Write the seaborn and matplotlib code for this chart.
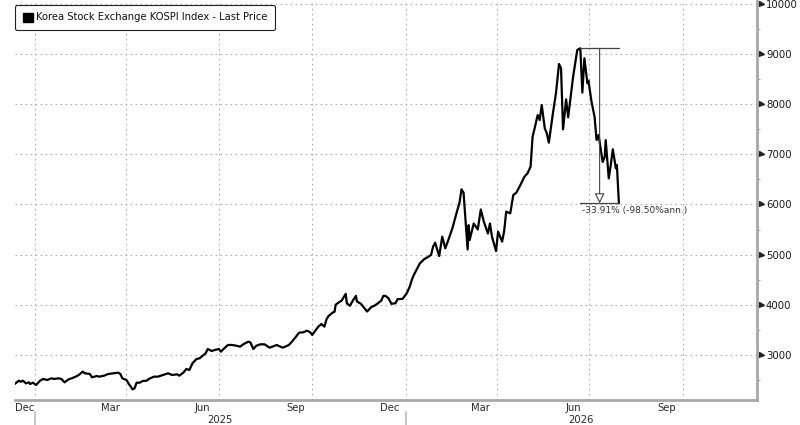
import pandas as pd
import matplotlib
matplotlib.use("Agg")
import matplotlib.pyplot as plt
import matplotlib.dates as mdates
import matplotlib.transforms as mtransforms
from matplotlib.patches import Patch
import seaborn as sns

# KOSPI last price
dates = [
    "2024-12-12", "2024-12-16", "2024-12-18", "2024-12-20", "2024-12-23", "2024-12-26",
    "2024-12-27", "2024-12-30", "2025-01-02", "2025-01-06", "2025-01-09", "2025-01-13",
    "2025-01-17", "2025-01-20", "2025-01-24", "2025-01-27", "2025-01-30", "2025-02-03",
    "2025-02-06", "2025-02-10", "2025-02-13", "2025-02-17", "2025-02-19", "2025-02-24",
    "2025-02-26", "2025-03-03", "2025-03-05", "2025-03-10", "2025-03-14", "2025-03-19",
    "2025-03-24", "2025-03-26", "2025-03-28", "2025-04-01", "2025-04-03", "2025-04-07",
    "2025-04-09", "2025-04-11", "2025-04-14", "2025-04-17", "2025-04-21", "2025-04-23",
    "2025-04-28", "2025-05-02", "2025-05-07", "2025-05-12", "2025-05-16", "2025-05-21",
    "2025-05-23", "2025-05-27", "2025-05-30", "2025-06-02", "2025-06-05", "2025-06-09",
    "2025-06-12", "2025-06-16", "2025-06-18", "2025-06-20", "2025-06-24", "2025-06-27",
    "2025-07-01", "2025-07-03", "2025-07-07", "2025-07-10", "2025-07-14", "2025-07-18",
    "2025-07-22", "2025-07-25", "2025-07-30", "2025-08-01", "2025-08-04", "2025-08-07",
    "2025-08-11", "2025-08-15", "2025-08-20", "2025-08-25", "2025-08-27", "2025-08-29",
    "2025-09-02", "2025-09-08", "2025-09-11", "2025-09-15", "2025-09-18", "2025-09-22",
    "2025-09-26", "2025-09-29", "2025-10-01", "2025-10-02", "2025-10-07", "2025-10-10",
    "2025-10-13", "2025-10-15", "2025-10-17", "2025-10-21", "2025-10-23", "2025-10-24",
    "2025-10-27", "2025-10-30", "2025-11-03", "2025-11-04", "2025-11-07", "2025-11-10",
    "2025-11-13", "2025-11-14", "2025-11-18", "2025-11-20", "2025-11-24", "2025-11-25",
    "2025-11-28", "2025-12-01", "2025-12-04", "2025-12-08", "2025-12-10", "2025-12-12",
    "2025-12-15", "2025-12-18", "2025-12-22", "2025-12-24", "2025-12-29", "2026-01-02",
    "2026-01-05", "2026-01-07", "2026-01-09", "2026-01-15", "2026-01-19", "2026-01-26",
    "2026-01-28", "2026-01-30", "2026-02-03", "2026-02-06", "2026-02-09", "2026-02-12",
    "2026-02-16", "2026-02-20", "2026-02-23", "2026-02-25", "2026-02-27", "2026-03-03",
    "2026-03-04", "2026-03-05", "2026-03-09", "2026-03-13", "2026-03-16", "2026-03-19",
    "2026-03-23", "2026-03-25", "2026-03-27", "2026-03-31", "2026-04-02", "2026-04-06",
    "2026-04-08", "2026-04-10", "2026-04-14", "2026-04-17", "2026-04-20", "2026-04-24",
    "2026-04-28", "2026-05-01", "2026-05-04", "2026-05-06", "2026-05-08", "2026-05-11",
    "2026-05-13", "2026-05-15", "2026-05-18", "2026-05-20", "2026-05-22", "2026-05-26",
    "2026-05-29", "2026-06-01", "2026-06-03", "2026-06-05", "2026-06-08", "2026-06-10",
    "2026-06-15", "2026-06-17", "2026-06-19", "2026-06-22", "2026-06-24", "2026-06-26",
    "2026-06-29", "2026-06-30", "2026-07-03", "2026-07-06", "2026-07-08", "2026-07-10",
    "2026-07-14", "2026-07-16", "2026-07-17", "2026-07-20", "2026-07-22", "2026-07-24",
    "2026-07-27", "2026-07-28", "2026-07-30",
]
prices = [
    2422, 2488, 2468, 2488, 2435, 2455,
    2422, 2448, 2402, 2488, 2522, 2502,
    2535, 2522, 2535, 2522, 2455, 2515,
    2535, 2568, 2601, 2668, 2635, 2621,
    2555, 2582, 2568, 2588, 2621, 2635,
    2648, 2621, 2535, 2502, 2435, 2316,
    2335, 2448, 2448, 2482, 2488, 2522,
    2568, 2568, 2601, 2635, 2601, 2615,
    2588, 2648, 2721, 2701, 2834, 2920,
    2934, 3000, 3033, 3120, 3080, 3100,
    3120, 3066, 3146, 3200, 3200, 3186,
    3166, 3213, 3266, 3253, 3120, 3186,
    3213, 3213, 3146, 3186, 3200, 3180,
    3146, 3200, 3266, 3365, 3445, 3452,
    3485, 3452, 3399, 3432, 3565, 3618,
    3565, 3711, 3777, 3844, 3864, 4000,
    4046, 4086, 4219, 4033, 3980, 4086,
    4179, 4066, 4020, 3967, 3867, 3887,
    3953, 3980, 4020, 4086, 4179, 4179,
    4133, 4020, 4033, 4113, 4119, 4229,
    4362, 4495, 4595, 4827, 4907, 4993,
    5159, 5239, 4973, 5358, 5126, 5292,
    5525, 5824, 6036, 6302, 6235, 5103,
    5588, 5292, 5621, 5502, 5900, 5654,
    5422, 5621, 5358, 5073, 5458, 5259,
    5472, 5857, 5824, 6190, 6236, 6389,
    6555, 6621, 6754, 7352, 7518, 7784,
    7684, 7983, 7518, 7418, 7232, 7817,
    8216, 8801, 8715, 7498, 8096, 7737,
    8561, 8814, 9080, 9113, 8230, 8914,
    8415, 8468, 8050, 7750, 7285, 7385,
    6847, 6947, 7285, 6521, 6787, 7100,
    6721, 6787, 6023,
]
y_ticks = [3000, 4000, 5000, 6000, 7000, 8000, 9000, 10000]
month_labels = ["Dec", "Mar", "Jun", "Sep", "Dec", "Mar", "Jun", "Sep"]
label_dates = ["2024-12-22", "2025-03-16", "2025-06-15", "2025-09-15",
               "2025-12-16", "2026-03-16", "2026-06-15", "2026-09-15"]
years = ["2025", "2026"]
legend_label = "Korea Stock Exchange KOSPI Index - Last Price"
drop_text = "-33.91% (-98.50%ann.)"

df = pd.DataFrame({"date": pd.to_datetime(dates), "price": prices})

sns.set_style("white")
plt.rcParams["font.family"] = ["DejaVu Sans"]

fig = plt.figure(figsize=(8, 4.25), dpi=100)
ax = fig.add_axes([15 / 800, 25 / 425, 742 / 800, 400 / 425])

sns.lineplot(data=df, x="date", y="price", ax=ax, color="black", lw=1.6)

x0 = pd.Timestamp("2024-12-12 06:00")
x1 = pd.Timestamp("2026-12-13")
ax.set_xlim(x0, x1)
ax.set_ylim(2103, 10076)
ax.set_xlabel("")
ax.set_ylabel("")

# dotted grid
grid_kw = dict(color="#b0b0b0", lw=0.8, ls=(0, (1.5, 3)))
for d in pd.date_range("2025-01-01", "2026-12-01", freq="QS"):
    ax.axvline(d, **grid_kw, zorder=0)
for v in y_ticks:
    ax.axhline(v, **grid_kw, zorder=0)

for s in ["top", "left"]:
    ax.spines[s].set_visible(False)
for s in ["right", "bottom"]:
    ax.spines[s].set_color("#a8a8a8")
    ax.spines[s].set_linewidth(2)

# y axis on the right with small pointer triangles
ax.yaxis.tick_right()
ax.set_yticks(y_ticks)
ax.set_yticklabels([str(v) for v in y_ticks])
ax.set_yticks(range(2500, 10001, 1000), minor=True)
ax.tick_params(axis="y", which="major", length=0, pad=6.5, labelsize=7.3, labelcolor="#1a1a1a")
ax.tick_params(axis="y", which="minor", direction="out", length=2, color="#999999")
ytr = mtransforms.blended_transform_factory(ax.transAxes, ax.transData)
ax.plot([1 + 4 / 742] * len(y_ticks), y_ticks, ls="none", marker=">", ms=3.6, color="#222222",
        transform=ytr, clip_on=False)

# x axis: month labels mid-month, minor ticks at month starts
ax.set_xticks(pd.to_datetime(label_dates))
ax.set_xticklabels(month_labels)
ax.xaxis.set_minor_locator(mdates.MonthLocator())
ax.tick_params(axis="x", which="major", length=0, pad=2, labelsize=7.2, labelcolor="#2a2a2a")
ax.tick_params(axis="x", which="minor", direction="in", length=3, color="#999999")

xtr = mtransforms.blended_transform_factory(ax.transData, ax.transAxes)
year_starts = [pd.Timestamp("2025-01-01"), pd.Timestamp("2026-01-01")]
year_ends = [pd.Timestamp("2026-01-01"), x1]
for ys, ye, lab in zip(year_starts, year_ends, years):
    mid = ys + (ye - ys) / 2
    ax.text(mid, -20 / 400, lab, transform=xtr, ha="center", va="center",
            fontsize=7.2, color="#2a2a2a")
    ax.plot([ys, ys], [-12 / 400, -25 / 400], transform=xtr, color="#bbbbbb",
            lw=1.2, clip_on=False)

# drawdown annotation
i_peak = df["price"].idxmax()
peak_date, peak_val = df.loc[i_peak, "date"], df.loc[i_peak, "price"]
end_date, end_val = df["date"].iloc[-1], df["price"].iloc[-1]
mid_date = peak_date + (end_date - peak_date) / 2
ax.plot([peak_date, end_date], [peak_val, peak_val], color="#444444", lw=0.9)
ax.plot([peak_date, end_date], [end_val, end_val], color="#444444", lw=0.9)
ax.annotate("", xy=(mid_date, end_val), xytext=(mid_date, peak_val),
            arrowprops=dict(arrowstyle="-|>,head_length=0.6,head_width=0.3",
                            fc="white", ec="#444444", lw=0.8, shrinkA=0, shrinkB=0))
ax.text(peak_date + pd.Timedelta(days=2), end_val - 60, drop_text, ha="left", va="top",
        fontsize=6.5, color="#333333")

# legend
handle = Patch(facecolor="black", edgecolor="black")
leg = ax.legend([handle], [legend_label], loc="upper left", bbox_to_anchor=(0, 1 - 5 / 400),
                borderaxespad=0, fontsize=7.2, frameon=True, fancybox=True,
                handlelength=1.0, handleheight=1.0, handletextpad=0.35,
                borderpad=0.75, labelcolor="#111111")
leg.get_frame().set_edgecolor("#222222")
leg.get_frame().set_linewidth(0.8)
leg.get_frame().set_alpha(1)

fig.savefig("out.png", dpi=100)
